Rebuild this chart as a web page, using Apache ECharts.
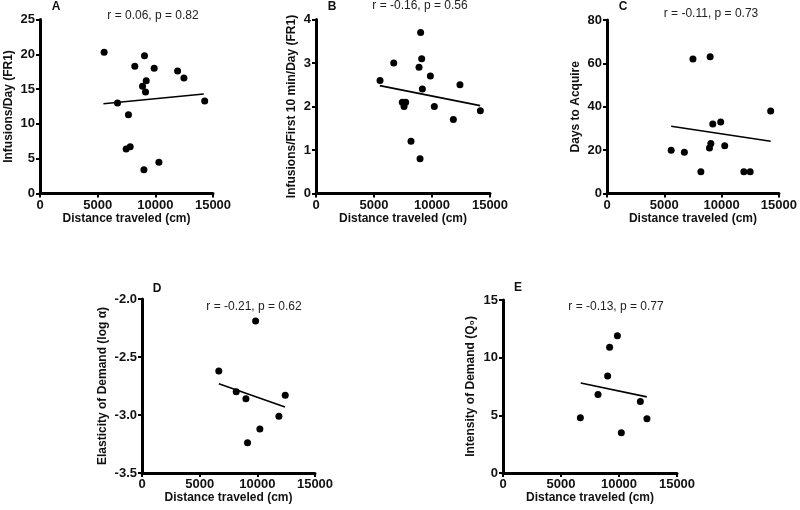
<!DOCTYPE html>
<html>
<head>
<meta charset="utf-8">
<script src="https://cdn.jsdelivr.net/npm/echarts@6/dist/echarts.min.js"></script>
<style>
  html, body { margin: 0; padding: 0; background: #fff; }
  #chart { width: 800px; height: 510px; }
</style>
</head>
<body>
<div id="chart"></div>
<script>
// panel A - infusions/day
const distA = [5560, 6720, 7670, 7470, 7820, 8220, 9060, 9900, 9210, 8890, 9150, 9010, 10310, 11930, 12480, 14280];
const infA = [20.3, 13.0, 11.3, 6.4, 6.7, 18.3, 19.8, 18.0, 16.2, 15.4, 14.6, 3.4, 4.5, 17.6, 16.6, 13.3];
const fitA = [[5500, 12.9], [14200, 14.3]];

// panel B - infusions/first 10 min/day
const distB = [5520, 6700, 9020, 8880, 9110, 9860, 9170, 12410, 7440, 7730, 7590, 10200, 11840, 14170, 8190, 8970];
const infB = [2.6, 3.0, 3.7, 2.9, 3.1, 2.7, 2.4, 2.5, 2.1, 2.1, 2.0, 2.0, 1.7, 1.9, 1.2, 0.8];
const fitB = [[5500, 2.48], [14150, 2.02]];

// panel C - days to acquire
const distC = [5600, 6750, 7500, 9000, 8190, 8940, 9060, 9230, 9920, 10270, 11940, 12490, 14280];
const daysC = [20, 19, 62, 63, 10, 21, 23, 32, 33, 22, 10, 10, 38];
const fitC = [[5600, 31.0], [14280, 24.1]];

// panel D - elasticity
const distD = [6660, 8170, 9010, 9850, 9150, 10220, 11870, 12420];
const elastD = [-2.62, -2.80, -2.86, -2.19, -3.24, -3.12, -3.01, -2.83];
const fitD = [[6660, -2.73], [12400, -2.93]];

// panel E - intensity
const distE = [6670, 8190, 9020, 9190, 9860, 10200, 11840, 12410];
const intensE = [4.8, 6.8, 8.4, 10.9, 11.9, 3.5, 6.2, 4.7];
const fitE = [[6700, 7.8], [12400, 6.6]];

const letters = ['A', 'B', 'C', 'D', 'E'];
const stats = ['r = 0.06, p = 0.82', 'r = -0.16, p = 0.56', 'r = -0.11, p = 0.73', 'r = -0.21, p = 0.62', 'r = -0.13, p = 0.77'];
const yNames = ['Infusions/Day (FR1)', 'Infusions/First 10 min/Day (FR1)', 'Days to Acquire', 'Elasticity of Demand (log \u03b1)', 'Intensity of Demand (Q\u2080)'];
const yRanges = [[0, 25, 5], [0, 4, 1], [0, 80, 20], [-3.5, -2.0, 0.5], [0, 15, 5]];

const xs = [distA, distB, distC, distD, distE];
const ys = [infA, infB, daysC, elastD, intensE];
const fits = [fitA, fitB, fitC, fitD, fitE];

// layout
const grids = [
  { left: 40, top: 19.5, width: 173, height: 174 },
  { left: 316, top: 19.5, width: 174, height: 174 },
  { left: 607, top: 20, width: 174, height: 173.5 },
  { left: 142, top: 299, width: 173, height: 174 },
  { left: 503, top: 300, width: 174, height: 173 }
];
const yGaps = [25, 18, 25, 33, 26];
const letterPos = [[56, 6.5], [332, 6.5], [623, 7], [157, 288.5], [518, 287.5]];
const statPos = [[153, 16], [420, 6], [711, 14], [254, 307], [616, 307]];

const FONT = '"Liberation Sans", Arial, sans-serif';
const mkLine = () => ({ show: true, onZero: false, lineStyle: { color: '#000', width: 3 } });
const mkTick = () => ({ show: true, length: 4, lineStyle: { color: '#000', width: 2 } });

const option = {
  animation: false,
  backgroundColor: '#fff',
  title: [],
  grid: grids,
  xAxis: [],
  yAxis: [],
  series: []
};

for (let i = 0; i < 5; i++) {
  option.title.push({
    text: letters[i],
    left: letterPos[i][0], top: letterPos[i][1],
    textAlign: 'center', textVerticalAlign: 'middle', padding: 0,
    textStyle: { fontFamily: FONT, fontSize: 12, fontWeight: 'bold', color: '#111' }
  });
  option.title.push({
    text: stats[i],
    left: statPos[i][0], top: statPos[i][1],
    textAlign: 'center', textVerticalAlign: 'middle', padding: 0,
    textStyle: { fontFamily: FONT, fontSize: 12, fontWeight: 'normal', color: '#222' }
  });
  option.xAxis.push({
    gridIndex: i, type: 'value', min: 0, max: 15000, interval: 5000,
    name: 'Distance traveled (cm)', nameLocation: 'middle', nameGap: 14,
    nameTextStyle: { fontFamily: FONT, fontSize: 12, fontWeight: 'bold', color: '#111' },
    axisLine: mkLine(), axisTick: mkTick(), splitLine: { show: false },
    axisLabel: {
      margin: 5, fontFamily: FONT, fontSize: 13, fontWeight: 'bold', color: '#111',
      formatter: (v) => String(v)
    }
  });
  const r = yRanges[i];
  option.yAxis.push({
    gridIndex: i, type: 'value', min: r[0], max: r[1], interval: r[2],
    name: yNames[i], nameLocation: 'middle', nameGap: yGaps[i],
    nameTextStyle: { fontFamily: FONT, fontSize: 12, fontWeight: 'bold', color: '#111' },
    axisLine: mkLine(), axisTick: mkTick(), splitLine: { show: false },
    axisLabel: {
      margin: 5, fontFamily: FONT, fontSize: 13, fontWeight: 'bold', color: '#111',
      formatter: i === 3 ? (v) => v.toFixed(1) : (v) => String(v)
    }
  });
  option.series.push({
    type: 'scatter', xAxisIndex: i, yAxisIndex: i,
    symbolSize: 7, itemStyle: { color: '#000', opacity: 1 },
    data: xs[i].map((x, k) => [x, ys[i][k]])
  });
  option.series.push({
    type: 'line', xAxisIndex: i, yAxisIndex: i,
    showSymbol: false, lineStyle: { color: '#000', width: 1.6 },
    data: fits[i]
  });
}

const myChart = echarts.init(document.getElementById('chart'));
myChart.setOption(option);
</script>
</body>
</html>
